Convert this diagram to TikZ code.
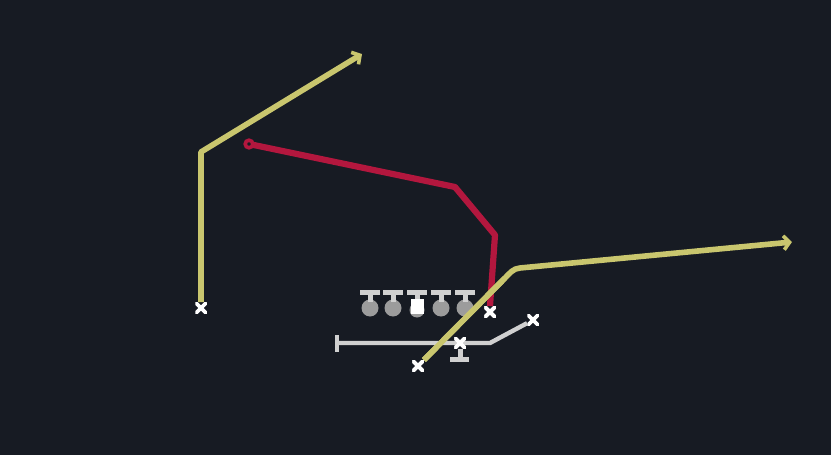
\documentclass[tikz,border=0pt]{standalone}
\usetikzlibrary{arrows.meta}
\definecolor{bg}{HTML}{171B23}
\definecolor{yel}{HTML}{C9C66E}
\definecolor{rte}{HTML}{B3173E}
\definecolor{lgray}{HTML}{D0D0D0}
\definecolor{dgray}{HTML}{9C9C9C}
\tikzset{
  yroute/.style={draw=yel,line width=5.6pt,line join=round,-{Straight Barb[length=6pt,width=14pt,line width=3.6pt]}},
  rroute/.style={draw=rte,line width=6.2pt,line join=round},
  groute/.style={draw=lgray,line width=4.4pt,line join=round},
  tbar/.style={draw=lgray,line width=5pt},
  xmark/.style={inner sep=0pt,minimum size=11.5pt,path picture={
    \draw[white,line width=3.6pt] (path picture bounding box.south west)--(path picture bounding box.north east)
      (path picture bounding box.north west)--(path picture bounding box.south east);}},
  lineman/.style={circle,fill=dgray,inner sep=0pt,minimum size=17pt},
}
\begin{document}
\begin{tikzpicture}[x=1pt,y=-1pt]
\fill[bg] (0,0) rectangle (831,455);
\useasboundingbox (0,0) rectangle (831,455);
% receivers
\node[xmark] (wl) at (201,308) {};
\node[xmark] (te) at (490,312) {};
\node[xmark] (rb) at (533,320) {};
\node[xmark] (sl) at (418,366) {};
\node[xmark] (qb) at (460,343) {};
\coordinate (wl1) at (201,152);
\coordinate (wlend) at (362,54);
\coordinate (r1) at (495,235);
\coordinate (r2) at (455,187);
\coordinate (rend) at (249,144);
\coordinate (s1) at (505,278);
\coordinate (send) at (792,242);
\coordinate (b0) at (337,343);
\coordinate (b1) at (490,343);
% routes
\draw[yroute] (wl) -- (wl1) -- (wlend);
\draw[rroute] (te.north) -- (r1) -- (r2) -- (rend);
\draw[rte,line width=3.6pt,fill=bg] (rend) circle (3.8pt);
\draw[yroute] (sl) -- (s1) to[out=45,in=185] (520,268) -- (send);
% backfield
\draw[groute] (b0) -- (b1) -- (rb);
\draw[groute] (337,335) -- (337,352);
\draw[tbar] (qb) -- (460,359);
\draw[tbar] (450,359) -- (469,359);
% line
\foreach \x/\n in {370/l1,393/l2,441/l4,465/l5}{
  \node[lineman] (\n) at (\x,308) {};
  \draw[tbar] (\x,302) -- (\x,292);
  \draw[tbar] (\x-10,292) -- (\x+10,292);
}
\node[circle,fill=dgray,inner sep=0pt,minimum size=15pt] (c0) at (417,310) {};
\node[fill=white,minimum width=13pt,minimum height=15pt,inner sep=0pt] (c) at (417,306) {};
\draw[tbar] (417,299) -- (417,292);
\draw[tbar] (407,292) -- (427,292);
\draw[yroute,-] (sl) -- (s1);
\node[xmark] at (te) {};
\node[xmark] at (sl) {};
\node[xmark] at (qb) {};
\end{tikzpicture}
\end{document}
